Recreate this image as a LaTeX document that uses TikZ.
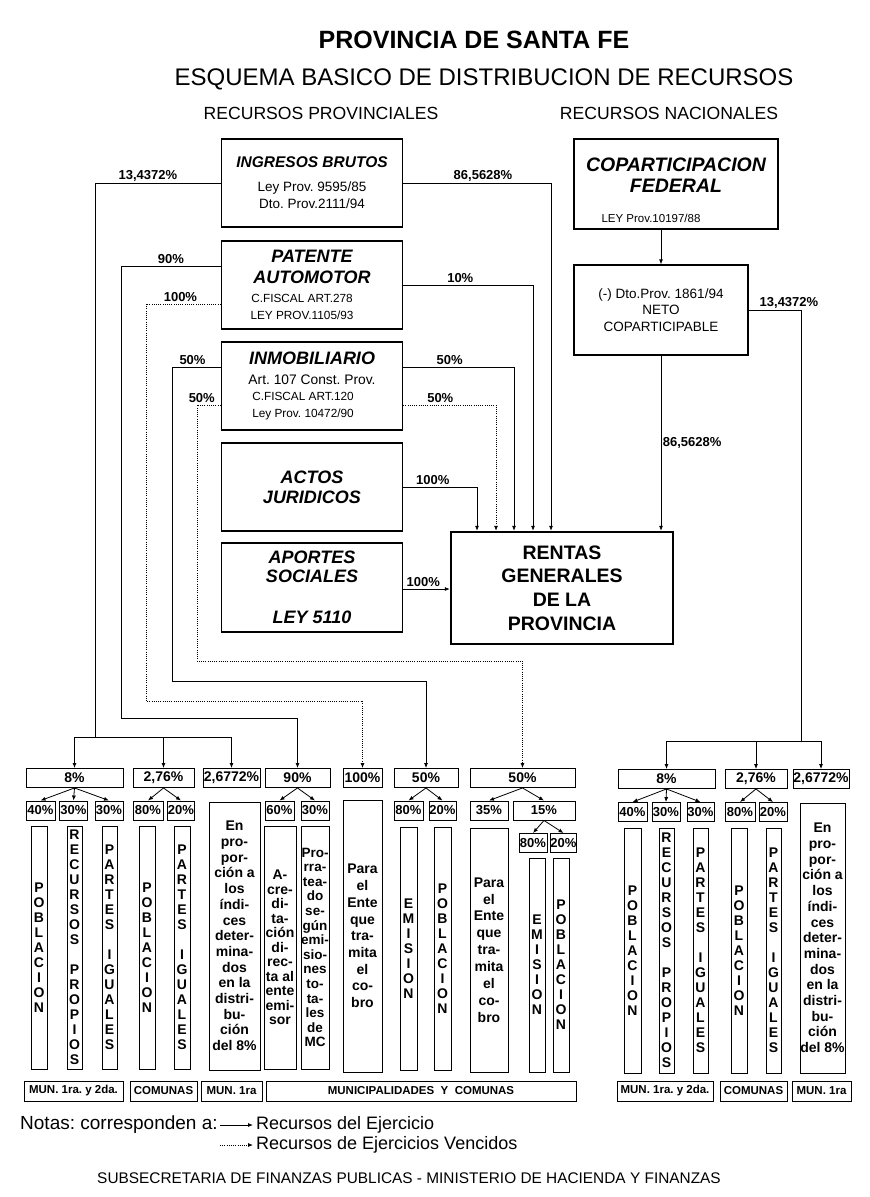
\documentclass[tikz,border=0pt]{standalone}
\usepackage{fontspec}
\setmainfont{Liberation Sans}
\usetikzlibrary{arrows.meta,positioning,calc}
\newcommand{\fs}[2]{\fontsize{#1}{#2}\selectfont}
\newcommand{\bi}{\bfseries\itshape}
\newcommand{\ley}[1]{{\fs{11.8}{14}\mdseries\upshape#1}}
\frenchspacing

\begin{document}
\begin{tikzpicture}[x=1pt,y=-1pt,
  src/.style={draw,line width=1.3pt,minimum width=181,minimum height=88,inner sep=0pt,align=center,font=\fs{13.5}{16.5}},
  pct/.style={font=\fs{13}{15}\bfseries,inner sep=1.5pt},
  lin/.style={line width=0.8pt},
  arr/.style={-{Latex[length=5pt,width=4pt]},line width=0.8pt},
  venc/.style={dash pattern=on 1pt off 1.2pt},
  pbox/.style={draw,line width=0.9pt,minimum height=19,inner sep=0pt,font=\fs{14}{16}\bfseries},
  sbox/.style={draw,line width=0.9pt,minimum height=19,inner sep=0pt,font=\fs{13}{15}\bfseries},
  col/.style={draw,line width=0.9pt,inner sep=0pt,align=center,font=\fs{14}{15}\bfseries},
  lab/.style={draw,line width=0.9pt,minimum height=20,inner sep=0pt,font=\fs{11.5}{13}\bfseries}]
\useasboundingbox (0,0) rectangle (870,1197);

% titulos
\node[font=\fs{25}{30}\bfseries] (tit) at (474,40) {PROVINCIA DE SANTA FE};
\node[font=\fs{24}{28}] (sub) at (484,79) {ESQUEMA BASICO DE DISTRIBUCION DE RECURSOS};
\node[font=\fs{17.6}{20}] (hprov) at (321,113) {RECURSOS PROVINCIALES};
\node[font=\fs{17.6}{20}] (hnac) at (669,113) {RECURSOS NACIONALES};

% recursos provinciales
\node[src] (ib) at (312,183) {{\fs{15.5}{18}\bi INGRESOS BRUTOS}\\[7.5pt]Ley Prov. 9595/85\\[0.5pt]Dto. Prov.2111/94};
\node[src,font=\fs{18}{21}\bi] (pa) at (312,285) {PATENTE\\AUTOMOTOR\\[-2pt]\ley{\hspace*{-20pt}C.FISCAL ART.278}\\[-4pt]\ley{\hspace*{-20pt}LEY PROV.1105/93}};
\node[src,font=\fs{13.8}{17}] (im) at (312,386) {{\fs{18}{21}\bi INMOBILIARIO}\\[3pt]Art. 107 Const. Prov.\\[-1pt]\ley{\hspace*{-18pt}C.FISCAL ART.120}\\\ley{\hspace*{-18pt}Ley Prov. 10472/90}};
\node[src,font=\fs{18}{20}\bi] (ac) at (312,487) {ACTOS\\JURIDICOS};
\node[src,minimum height=89,font=\fs{18}{19}\bi] (ap) at (312,587.5) {APORTES\\SOCIALES\\[22pt]LEY 5110};
\node[src,line width=2.4pt,minimum width=222,minimum height=112,font=\fs{19.5}{23.7}\bfseries] (rg) at (562,588) {RENTAS\\GENERALES\\DE LA\\PROVINCIA};

% recursos nacionales
\node[src,minimum width=204,minimum height=90,font=\fs{19.5}{21}\bi] (cf) at (676,184) {\rule{0pt}{26pt}COPARTICIPACION\\FEDERAL\\[9pt]{\fs{11.5}{14}\mdseries\upshape\hspace*{-50pt}LEY Prov.10197/88}};
\node[src,minimum width=174,minimum height=90] (nc) at (661,310) {(-) Dto.Prov. 1861/94\\NETO\\COPARTICIPABLE};

% porcentajes
\node[pbox,minimum width=97] (p8) at (74.5,778) {8\%};
\node[pbox,minimum width=61] (p276) at (163.5,778) {2,76\%};
\node[pbox,minimum width=57] (p2677) at (231.5,778) {2,6772\%};
\node[pbox,minimum width=65] (p90) at (297.5,778) {90\%};
\node[pbox,minimum width=39] (p100) at (362.5,778) {100\%};
\node[pbox,minimum width=64] (p50a) at (426,778) {50\%};
\node[pbox,minimum width=105] (p50b) at (522.5,778) {50\%};
\node[pbox,minimum width=97] (q8) at (666.5,779) {8\%};
\node[pbox,minimum width=62] (q276) at (756,779) {2,76\%};
\node[pbox,minimum width=56] (q2677) at (821,779) {2,6772\%};

\node[sbox,minimum width=29] (s40a) at (40.5,810.5) {40\%};
\node[sbox,minimum width=28] (s30a) at (73.5,810.5) {30\%};
\node[sbox,minimum width=28] (s30b) at (109,810.5) {30\%};
\node[sbox,minimum width=30] (s80a) at (148,810.5) {80\%};
\node[sbox,minimum width=27] (s20a) at (181,810.5) {20\%};
\node[sbox,minimum width=29] (s60) at (279.5,810.5) {60\%};
\node[sbox,minimum width=28] (s30c) at (315,810.5) {30\%};
\node[sbox,minimum width=29] (s80b) at (408.5,810.5) {80\%};
\node[sbox,minimum width=27] (s20b) at (442.5,810.5) {20\%};
\node[sbox,minimum width=38] (s35) at (489,810.5) {35\%};
\node[sbox,minimum width=62] (s15) at (544,810.5) {15\%};
\node[sbox,minimum width=28] (s80c) at (533,843) {80\%};
\node[sbox,minimum width=25] (s20c) at (563.5,843) {20\%};
\node[sbox,minimum width=29] (t40) at (632.5,812) {40\%};
\node[sbox,minimum width=28] (t30a) at (666,812) {30\%};
\node[sbox,minimum width=27] (t30b) at (700.5,812) {30\%};
\node[sbox,minimum width=30] (t80) at (740,812) {80\%};
\node[sbox,minimum width=28] (t20) at (773,812) {20\%};

% columnas
\node[col,minimum width=16,minimum height=243] (v1) at (39,947.5) {P\\O\\B\\L\\A\\C\\I\\O\\N};
\node[col,minimum width=15,minimum height=243] (v2) at (74.5,947.5) {R\\E\\C\\U\\R\\S\\O\\S\\[15pt]P\\R\\O\\P\\I\\O\\S};
\node[col,minimum width=15,minimum height=243] (v3) at (109.5,947.5) {P\\A\\R\\T\\E\\S\\[15pt]I\\G\\U\\A\\L\\E\\S};
\node[col,minimum width=16,minimum height=243] (v4) at (147,947.5) {P\\O\\B\\L\\A\\C\\I\\O\\N};
\node[col,minimum width=16,minimum height=243] (v5) at (182,947.5) {P\\A\\R\\T\\E\\S\\[15pt]I\\G\\U\\A\\L\\E\\S};
\node[col,minimum width=51,minimum height=268,font=\fs{14}{15.7}\bfseries] (v6) at (234.5,936) {En\\pro-\\por-\\ción a\\los\\índi-\\ces\\deter-\\mina-\\dos\\en la\\distri-\\bu-\\ción\\del 8\%};
\node[col,minimum width=32,minimum height=243,font=\fs{14}{14.5}\bfseries] (v7) at (280,947.5) {A-\\cre-\\di-\\ta-\\ción\\di-\\rec-\\ta al\\ente\\emi-\\sor};
\node[col,minimum width=28,minimum height=243,font=\fs{13.5}{14.6}\bfseries] (v8) at (315,947.5) {Pro-\\rra-\\tea-\\do\\se-\\gún\\emi-\\sio-\\nes\\to-\\ta-\\les\\de\\MC};
\node[col,minimum width=39,minimum height=272,font=\fs{14}{16.7}\bfseries] (v9) at (362.5,936) {Para\\el\\Ente\\que\\tra-\\mita\\el\\co-\\bro};
\node[col,minimum width=17,minimum height=243] (v10) at (408.5,948.5) {E\\M\\I\\S\\I\\O\\N};
\node[col,minimum width=17,minimum height=243] (v11) at (442.5,948.5) {P\\O\\B\\L\\A\\C\\I\\O\\N};
\node[col,minimum width=38,minimum height=244,font=\fs{14}{16.9}\bfseries] (v12) at (489,950) {Para\\el\\Ente\\que\\tra-\\mita\\el\\co-\\bro};
\node[col,minimum width=16,minimum height=214] (v13) at (537,965) {E\\M\\I\\S\\I\\O\\N};
\node[col,minimum width=16,minimum height=214] (v14) at (561,965) {P\\O\\B\\L\\A\\C\\I\\O\\N};
\node[col,minimum width=17,minimum height=245] (w1) at (632.5,950.5) {P\\O\\B\\L\\A\\C\\I\\O\\N};
\node[col,minimum width=15,minimum height=245] (w2) at (666.5,950.5) {R\\E\\C\\U\\R\\S\\O\\S\\[15pt]P\\R\\O\\P\\I\\O\\S};
\node[col,minimum width=15,minimum height=245] (w3) at (700.5,950.5) {P\\A\\R\\T\\E\\S\\[15pt]I\\G\\U\\A\\L\\E\\S};
\node[col,minimum width=16,minimum height=245] (w4) at (739,950.5) {P\\O\\B\\L\\A\\C\\I\\O\\N};
\node[col,minimum width=15,minimum height=245] (w5) at (773.5,950.5) {P\\A\\R\\T\\E\\S\\[15pt]I\\G\\U\\A\\L\\E\\S};
\node[col,minimum width=45,minimum height=270,font=\fs{14}{15.7}\bfseries] (w6) at (822.5,938) {En\\pro-\\por-\\ción a\\los\\índi-\\ces\\deter-\\mina-\\dos\\en la\\distri-\\bu-\\ción\\del 8\%};

% destinatarios
\node[lab,minimum width=99] (l1) at (73.5,1091) {MUN. 1ra. y 2da.};
\node[lab,minimum width=67] (l2) at (163.5,1091) {COMUNAS};
\node[lab,minimum width=61] (l3) at (231.5,1091) {MUN. 1ra};
\node[lab,minimum width=310] (l4) at (421,1091) {MUNICIPALIDADES\ \ Y\ \ COMUNAS};
\node[lab,minimum width=96] (r1) at (665,1091) {MUN. 1ra. y 2da.};
\node[lab,minimum width=67] (r2) at (753.5,1091) {COMUNAS};
\node[lab,minimum width=59] (r3) at (821.5,1091) {MUN. 1ra};

% conexiones provinciales
\coordinate (jl) at (95,737);
\coordinate (c90) at (121,718);
\coordinate (c100) at (146,701);
\coordinate (c50a) at (172,681);
\coordinate (c50b) at (197,661);
\draw[lin] (ib.west) -| node[pct,above,pos=0.29]{13,4372\%} (jl);
\draw[arr] (jl) -| (p8.north);
\draw[arr] (jl) -| (p276.north);
\draw[arr] (jl) -| (p2677.north);
\draw[arr] ([yshift=19pt]pa.west) -| node[pct,above,pos=0.25]{90\%} (c90) -| (p90.north);
\draw[arr,venc] ([yshift=-19pt]pa.west) -| node[pct,above,pos=0.27]{100\%} (c100) -| (p100.north);
\draw[arr] ([yshift=19pt]im.west) -| node[pct,above,pos=0.29]{50\%} (c50a) -| (p50a.north);
\draw[arr,venc] ([yshift=-19pt]im.west) -| node[pct,above,pos=0.4]{50\%} (c50b) -| (p50b.north);
\draw[arr] (ib.east) -| node[pct,above,pos=0.27]{86,5628\%} ([xshift=-11pt]rg.north);
\draw[arr] (pa.east) -| node[pct,above,pos=0.22]{10\%} ([xshift=-29pt]rg.north);
\draw[arr] ([yshift=19pt]im.east) -| node[pct,above,pos=0.21]{50\%} ([xshift=-48pt]rg.north);
\draw[arr,venc] ([yshift=-19pt]im.east) -| node[pct,above,pos=0.2]{50\%} ([xshift=-66pt]rg.north);
\draw[arr] (ac.east) -| node[pct,above,pos=0.2]{100\%} ([xshift=-85pt]rg.north);
\draw[arr] ([yshift=-1.5pt]ap.east) -- node[pct,above,pos=0.43]{100\%} ([yshift=-1.5pt]ap.east -| rg.west);

% conexiones nacionales
\coordinate (jr) at (801,741);
\draw[arr] (nc.north |- cf.south) -- (nc.north);
\draw[arr] (nc.south) -- node[pct,right]{86,5628\%} (nc.south |- rg.north);
\draw[lin] (nc.east) -| node[pct,above,pos=0.385]{13,4372\%} (jr);
\draw[arr] (jr) -| (q8.north);
\draw[arr] (jr) -| (q276.north);
\draw[arr] (jr) -| (q2677.north);

% repartos
\draw[arr] (p8.south) -- (s40a.north);
\draw[arr] (p8.south) -- (s30a.north);
\draw[arr] (p8.south) -- (s30b.north);
\draw[arr] (p276.south) -- (s80a.north);
\draw[arr] (p276.south) -- (s20a.north);
\draw[arr] (p90.south) -- (s60.north);
\draw[arr] (p90.south) -- (s30c.north);
\draw[arr] (p50a.south) -- (s80b.north);
\draw[arr] (p50a.south) -- (s20b.north);
\draw[arr] (p50b.south) -- (s35.north);
\draw[arr] (p50b.south) -- (s15.north);
\draw[arr] (s15.south) -- (s80c.north);
\draw[arr] (s15.south) -- (s20c.north);
\draw[arr] (q8.south) -- (t40.north);
\draw[arr] (q8.south) -- (t30a.north);
\draw[arr] (q8.south) -- (t30b.north);
\draw[arr] (q276.south) -- (t80.north);
\draw[arr] (q276.south) -- (t20.north);

% notas
\node[anchor=west,inner sep=0pt,font=\fs{19}{21}] (nt) at (20,1125) {Notas: corresponden a:};
\node[anchor=west,inner sep=0pt,font=\fs{18}{21}] (le1) at (256,1125) {Recursos del Ejercicio};
\node[anchor=west,inner sep=0pt,font=\fs{18}{21}] (le2) at (256,1145) {Recursos de Ejercicios Vencidos};
\draw[arr,shorten <=2pt,shorten >=3pt] (nt.east) -- (le1.west);
\draw[arr,venc,shorten <=2pt,shorten >=3pt] (nt.east |- le2.west) -- (le2.west);
\node[font=\fs{15.4}{18}] (pie) at (409,1178) {SUBSECRETARIA DE FINANZAS PUBLICAS - MINISTERIO DE HACIENDA Y FINANZAS};
\end{tikzpicture}
\end{document}
